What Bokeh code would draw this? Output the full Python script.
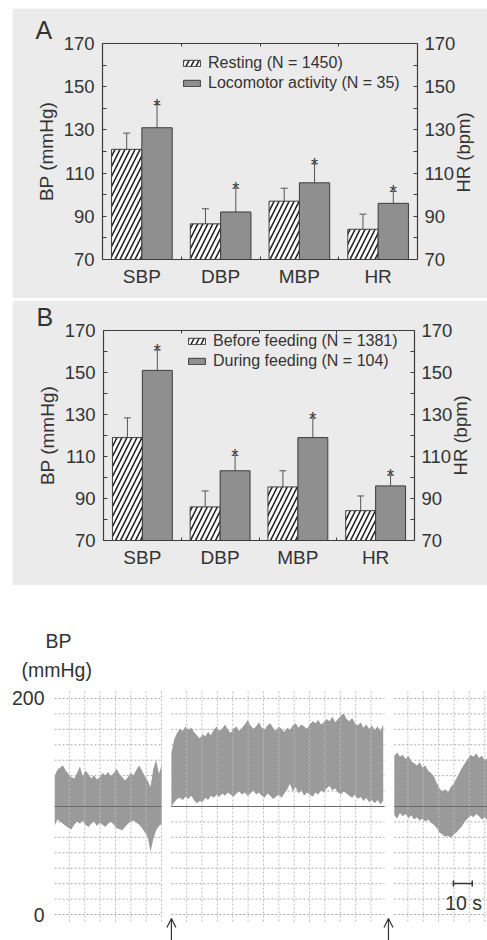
import math
import numpy as np
from bokeh.plotting import figure
from bokeh.models import (ColumnDataSource, LinearAxis, FixedTicker, Range1d, Whisker,
                          TeeHead, Legend, LegendItem, Label, Arrow, OpenHead, Title)
from bokeh.embed import file_html
from bokeh.resources import INLINE
from bokeh.core.properties import value

# ---------------- data ----------------
categories = ["SBP", "DBP", "MBP", "HR"]
bp_ticks = [70, 90, 110, 130, 150, 170]
bp_minor_ticks = [80, 100, 120, 140, 160]

a_labels = ["Resting (N = 1450)", "Locomotor activity (N = 35)"]
a_rest_mean = [121, 86.5, 97, 84]
a_rest_hi = [128.5, 93.5, 103, 91]
a_rest_lo = [107.5, 78, 88, 76.5]
a_loco_mean = [131, 92, 105.5, 96]
a_loco_hi = [141.7, 103, 114.3, 101.5]

b_labels = ["Before feeding (N = 1381)", "During feeding (N = 104)"]
b_before_mean = [119, 86, 95.5, 84.2]
b_before_hi = [128.4, 93.6, 103.2, 91.2]
b_before_lo = [107.1, 77.7, 88, 76]
b_during_mean = [151, 103.2, 119, 96]
b_during_hi = [160.7, 110.5, 128.3, 101.1]

# BP trace (mmHg), upper (systolic) and lower (diastolic) envelopes, sampled every 1.5 s
trace_ticks = [0, 200]
seg_starts = [0.0, 62.1, 180.5]
seg_ends = [56.8, 175.3, 230.0]
sample_step = 1.5
seg1_upper = [128, 134, 136, 138, 133, 130, 127, 126, 131, 137, 128, 133, 130, 126, 129, 125, 127, 131, 129, 132,
              128, 131, 135, 130, 127, 124, 127, 131, 129, 134, 138, 133, 128, 124, 118, 135, 143, 130, 139]
seg1_lower = [82, 88, 86, 84, 82, 80, 79, 83, 86, 84, 87, 83, 81, 84, 86, 82, 85, 83, 81, 84,
              86, 83, 80, 79, 78, 81, 84, 86, 87, 85, 83, 80, 76, 72, 58, 70, 78, 82, 84]
seg2_upper = [150, 162, 168, 172, 170, 174, 171, 173, 169, 166, 163, 167, 165, 169, 166, 171, 174, 170, 172, 176,
              171, 168, 172, 174, 170, 173, 176, 180, 175, 172, 174, 178, 173, 171, 175, 177, 173, 170, 174, 172,
              169, 173, 171, 175, 177, 173, 176, 174, 172, 176, 179, 177, 180, 176, 178, 181, 179, 183, 178, 181,
              184, 186, 181, 179, 182, 177, 175, 178, 173, 176, 172, 175, 171, 174, 170, 176]
seg2_lower = [100, 104, 107, 108, 106, 109, 107, 110, 106, 103, 105, 104, 108, 106, 110, 108, 111, 109, 112, 110,
              113, 111, 109, 112, 114, 111, 113, 110, 112, 115, 111, 113, 110, 108, 112, 110, 107, 109, 111, 108,
              112, 116, 121, 114, 118, 112, 115, 110, 113, 111, 109, 113, 111, 115, 113, 117, 119, 115, 117, 113,
              111, 114, 112, 110, 108, 111, 107, 109, 105, 108, 104, 106, 103, 106, 102, 105]
seg3_upper = [147, 150, 146, 148, 144, 147, 142, 140, 138, 141, 136, 138, 133, 131, 128, 122, 117, 114, 116, 113,
              118, 121, 126, 131, 136, 140, 144, 148, 146, 149, 145, 147, 143, 145]
seg3_lower = [92, 89, 94, 91, 93, 89, 92, 88, 90, 87, 89, 86, 88, 85, 83, 80, 76, 74, 72, 73,
              71, 74, 76, 79, 82, 86, 89, 92, 90, 93, 91, 88, 90, 87]
ref_level = 100
event_times = [62.1, 177.4]
scale_bar_s = 10

# ---------------- style ----------------
FONT = "Liberation Sans"
TXT = "#333333"
PANEL = "#ebebeb"
BARC = "#8f8f8f"
AXC = "#3c3c3c"
WH = "#555555"
BW = 0.385
OFF = 0.1925
Y_BOTTOM_C = -24.07
HR_LABEL_AT = 101.0   # where the rotated "HR (bpm)" text starts on the right side


def style_axis(ax, size="18.5px"):
    ax.axis_line_color = AXC
    ax.axis_line_width = 1.2
    ax.major_tick_line_color = AXC
    ax.minor_tick_line_color = AXC
    ax.major_tick_in = 4
    ax.major_tick_out = 0
    ax.minor_tick_in = 4
    ax.minor_tick_out = 0
    ax.major_label_text_font = FONT
    ax.major_label_text_font_size = size
    ax.major_label_text_color = TXT
    ax.major_label_standoff = 8


def bar_panel(letter, labels, m1, h1, l1, m2, h2, height, borders, margin, leg_loc, letter_off):
    p = figure(width=475, height=height, x_range=Range1d(0, 4), y_range=Range1d(70, 170),
               output_backend="svg", toolbar_location=None,
               min_border_left=borders[0], min_border_right=borders[1],
               min_border_top=borders[2], min_border_bottom=borders[3],
               background_fill_color=PANEL, border_fill_color=PANEL,
               outline_line_color=AXC, margin=margin)
    p.xgrid.visible = False
    p.ygrid.visible = False
    bx = p.xaxis[0]
    ly = p.yaxis[0]

    centers = [i + 0.5 for i, _ in enumerate(categories)]
    s1 = ColumnDataSource(dict(x=[c - OFF for c in centers], top=m1, hi=h1, lo=l1))
    s2 = ColumnDataSource(dict(x=[c + OFF for c in centers], top=m2, hi=h2, txt=["*"] * len(m2)))
    r1 = p.vbar(x="x", top="top", bottom=70, width=BW, source=s1, fill_color="white",
                line_color=AXC, line_width=1, hatch_pattern="/", hatch_scale=10,
                hatch_weight=1.6, hatch_color="#222222")
    r2 = p.vbar(x="x", top="top", bottom=70, width=BW, source=s2, fill_color=BARC,
                line_color=AXC, line_width=1)
    p.add_layout(Whisker(base="x", upper="hi", lower="lo", source=s1, line_color=WH, line_width=1,
                         upper_head=TeeHead(size=7, line_color=WH, line_width=1),
                         lower_head=TeeHead(size=7, line_color=WH, line_width=1)))
    p.add_layout(Whisker(base="x", upper="hi", lower="top", source=s2, line_color=WH, line_width=1,
                         upper_head=TeeHead(size=7, line_color=WH, line_width=1), lower_head=None))
    p.text(x="x", y="hi", text="txt", source=s2, text_align="center", text_baseline="alphabetic",
           text_font=value(FONT), text_font_size="18px", text_color=TXT, y_offset=1)

    ly.ticker = FixedTicker(ticks=bp_ticks, minor_ticks=bp_minor_ticks)
    style_axis(ly)
    ly.axis_label = "BP (mmHg)"
    ly.axis_label_text_font = FONT
    ly.axis_label_text_font_size = "19px"
    ly.axis_label_text_font_style = "normal"
    ly.axis_label_text_color = TXT
    ly.axis_label_standoff = 4

    ry = LinearAxis(ticker=FixedTicker(ticks=bp_ticks, minor_ticks=bp_minor_ticks))
    style_axis(ry)
    ry.major_label_standoff = 7
    p.add_layout(ry, "right")

    # "HR (bpm)" title of the right axis, reading bottom-to-top
    hr = LinearAxis(ticker=FixedTicker(ticks=[HR_LABEL_AT], minor_ticks=[]),
                    major_label_overrides={HR_LABEL_AT: "HR (bpm)"},
                    major_label_orientation=math.pi / 2)
    hr.axis_line_color = None
    hr.major_tick_line_color = None
    hr.minor_tick_line_color = None
    hr.major_tick_in = 0
    hr.major_tick_out = 0
    hr.major_label_text_font = FONT
    hr.major_label_text_font_size = "18.5px"
    hr.major_label_text_color = TXT
    hr.major_label_standoff = 5
    p.add_layout(hr, "right")

    top = LinearAxis(ticker=FixedTicker(ticks=[], minor_ticks=[1, 2, 3]))
    style_axis(top)
    top.minor_tick_in = 3
    top.major_label_text_font_size = "0px"
    p.add_layout(top, "above")

    bx.ticker = FixedTicker(ticks=centers, minor_ticks=[1, 2, 3])
    style_axis(bx, "19px")
    bx.major_tick_in = 0
    bx.minor_tick_in = 3
    bx.major_label_standoff = 6
    bx.major_label_overrides = {c: cat for c, cat in zip(centers, categories)}

    legend = Legend(items=[LegendItem(label=labels[0], renderers=[r1]),
                           LegendItem(label=labels[1], renderers=[r2])],
                    location=leg_loc, background_fill_alpha=0, border_line_color=None,
                    padding=0, margin=0, spacing=2, glyph_width=21, glyph_height=8,
                    label_text_font=FONT, label_text_font_size="16px", label_text_color=TXT,
                    label_standoff=6, label_height=14)
    p.add_layout(legend)

    p.title.text = letter
    p.title.align = "left"
    p.title.offset = letter_off
    p.title.standoff = 0
    p.title.text_font = FONT
    p.title.text_font_size = "25px"
    p.title.text_font_style = "normal"
    p.title.text_color = TXT
    return p


pA = bar_panel("A", a_labels, a_rest_mean, a_rest_hi, a_rest_lo, a_loco_mean, a_loco_hi,
               290, (90, 70, 35, 39), (8, 0, 0, 12), (79, 167), -67)
pB = bar_panel("B", b_labels, b_before_mean, b_before_hi, b_before_lo, b_during_mean, b_during_hi,
               285, (91, 73, 24, 45), (2, 0, 0, 12), (83, 170), -67)

# ---------------- BP trace panel ----------------
pC = figure(width=479, height=355, x_range=Range1d(0, 230), y_range=Range1d(Y_BOTTOM_C, 211.11),
            output_backend="svg", toolbar_location=None, x_axis_location=None,
            min_border_left=42, min_border_right=0, min_border_top=101, min_border_bottom=0,
            outline_line_color=None, background_fill_color="white", border_fill_color="white",
            margin=(0, 0, 0, 8))
pC.grid.visible = False
yax = pC.yaxis[0]
yax.ticker = FixedTicker(ticks=trace_ticks)
yax.axis_line_color = None
yax.major_tick_line_color = None
yax.minor_tick_line_color = None
yax.major_label_text_font = FONT
yax.major_label_text_font_size = "19.5px"
yax.major_label_text_color = TXT
yax.major_label_standoff = 4

# chart-paper grid
grid_levels = np.linspace(0, 200, 15)
grid_step = 8.16
grid_first = [7.9, 70.2, 187.7]
hx0, hx1, hy = [], [], []
vx, vy0, vy1 = [], [], []
for a, b, f in zip(seg_starts, seg_ends, grid_first):
    for lv in grid_levels:
        hx0.append(a); hx1.append(b); hy.append(lv)
    g = f
    while g <= b + 0.2:
        vx.append(g); vy0.append(-6.5); vy1.append(207.4)
        g += grid_step
pC.segment(x0=hx0, y0=hy, x1=hx1, y1=hy, line_color="#aaaaaa", line_dash="2 2", line_width=1)

segs = [(seg1_upper, seg1_lower), (seg2_upper, seg2_lower), (seg3_upper, seg3_lower)]
for (up, lo), a, b in zip(segs, seg_starts, seg_ends):
    t = a + sample_step * np.arange(len(up))
    pC.varea(x=t, y1=lo, y2=up, fill_color="#9a9a9a")
    pC.segment(x0=[a], y0=[ref_level], x1=[b], y1=[ref_level], line_color="#6a6a6a", line_width=1)

pC.segment(x0=vx, y0=vy0, x1=vx, y1=vy1, line_color="#bcbcbc", line_dash="2 2", line_width=1)

# scale bar
sb_x0, sb_y = 211.9, 28.7
pC.segment(x0=[sb_x0], y0=[sb_y], x1=[sb_x0 + scale_bar_s], y1=[sb_y], line_color=TXT, line_width=1.5)
pC.segment(x0=[sb_x0, sb_x0 + scale_bar_s], y0=[sb_y - 2.8] * 2, x1=[sb_x0, sb_x0 + scale_bar_s],
           y1=[sb_y + 2.8] * 2, line_color=TXT, line_width=1.5)
pC.add_layout(Label(x=sb_x0 + scale_bar_s / 2 + 0.4, y=10.2, text="10 s", text_align="center",
                    text_baseline="alphabetic", text_font=FONT, text_font_size="19.5px", text_color=TXT))

for et in event_times:
    pC.add_layout(Arrow(end=OpenHead(size=9, line_width=1.2, line_color=TXT), x_start=et, y_start=Y_BOTTOM_C,
                        x_end=et, y_end=-3.7, line_width=1.2, line_color=TXT))

pC.title.text = "BP"
pC.title.align = "left"
pC.title.offset = -9
pC.title.standoff = 0
pC.title.text_font = FONT
pC.title.text_font_size = "19.5px"
pC.title.text_font_style = "normal"
pC.title.text_color = TXT
pC.add_layout(Title(text="(mmHg)", align="left", offset=-33, standoff=11, text_font=FONT,
                    text_font_size="19.5px", text_font_style="normal", text_color=TXT), "above")

open("out.html", "w").write(file_html([pA, pB, pC], INLINE))
